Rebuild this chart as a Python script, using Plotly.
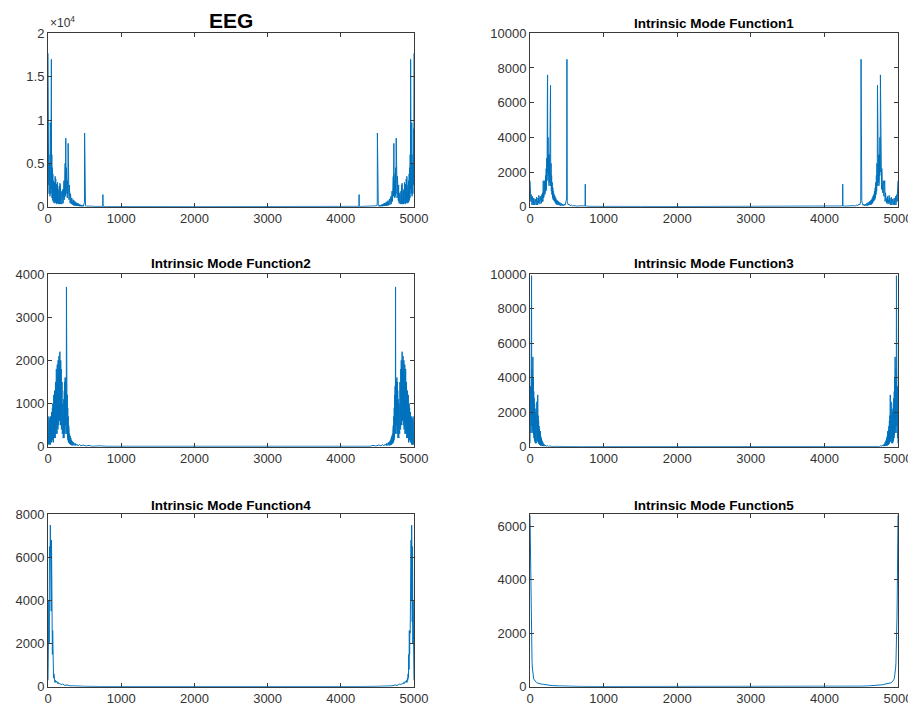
import plotly.graph_objects as go
from plotly.subplots import make_subplots

# ---------------- data (left half of each symmetric spectrum) ----------------
titles = ["EEG", "Intrinsic Mode Function1", "Intrinsic Mode Function2",
          "Intrinsic Mode Function3", "Intrinsic Mode Function4", "Intrinsic Mode Function5"]

x_ticks = [0, 1000, 2000, 3000, 4000, 5000]

eeg_x = [0, 3, 6, 9, 12, 15, 18, 21, 24, 27, 30, 33, 36, 39, 42, 46, 49, 52, 55, 58, 62, 66, 70, 74, 78,
         82, 86, 90, 94, 98, 102, 106, 110, 114, 118, 122, 126, 130, 134, 138, 142, 146, 150, 154, 158,
         162, 166, 170, 174, 178, 182, 186, 190, 194, 198, 202, 206, 210, 214, 218, 222, 226, 230, 234,
         238, 243, 247, 251, 255, 259, 263, 267, 271, 275, 279, 283, 287, 291, 295, 299, 303, 307, 311,
         315, 320, 325, 330, 335, 340, 345, 350, 356, 362, 368, 374, 380, 386, 392, 398, 404, 410, 416,
         422, 428, 434, 440, 446, 452, 458, 464, 470, 476, 482, 488, 494, 498, 500, 502, 506, 512, 520,
         540, 560, 580, 600, 640, 680, 720, 748, 750, 752, 800, 900, 1000, 1500, 2000, 2500]
eeg_y = [17700, 3000, 9000, 2500, 6000, 1500, 5000, 2000, 4200, 1200, 9700, 2500, 9000, 1500, 5000, 17000,
         2000, 6000, 1000, 4500, 800, 3800, 600, 3000, 500, 2500, 400, 2800, 600, 3500, 500, 3200, 400,
         2600, 300, 2200, 500, 2800, 400, 2000, 300, 1800, 500, 2400, 300, 2700, 400, 2500, 300, 1800,
         400, 1500, 300, 1600, 500, 2000, 400, 2500, 700, 3000, 800, 3500, 1000, 5000, 1200, 7900, 1500,
         4500, 1200, 3800, 1000, 3000, 1500, 7300, 1200, 3500, 800, 2500, 600, 1800, 400, 1500, 300, 1200,
         300, 1000, 200, 900, 200, 800, 150, 700, 150, 600, 100, 500, 100, 450, 80, 400, 80, 350, 60, 300,
         50, 250, 50, 200, 40, 200, 40, 150, 40, 150, 300, 500, 8500, 400, 200, 100, 60, 40, 80, 30, 60,
         30, 50, 30, 40, 1400, 40, 20, 30, 15, 20, 10, 10]

imf1_x = [0, 4, 8, 12, 16, 20, 24, 28, 32, 36, 40, 45, 50, 55, 60, 65, 70, 75, 80, 85, 90, 95, 100, 105,
          110, 115, 120, 125, 130, 135, 140, 145, 150, 155, 160, 165, 170, 175, 180, 184, 188, 192, 196,
          200, 204, 208, 212, 216, 220, 224, 228, 232, 236, 239, 242, 245, 248, 251, 254, 257, 260, 263,
          266, 270, 274, 279, 282, 286, 290, 294, 298, 302, 306, 310, 315, 320, 325, 330, 335, 340, 345,
          350, 356, 362, 368, 375, 382, 390, 398, 406, 415, 425, 435, 445, 455, 465, 475, 485, 492, 498,
          502, 506, 512, 520, 530, 545, 560, 580, 600, 640, 680, 720, 748, 751, 754, 800, 900, 1000, 1500,
          2000, 2500]
imf1_y = [1500, 600, 1200, 300, 700, 200, 500, 100, 600, 200, 400, 100, 500, 150, 350, 100, 450, 150, 300,
          100, 550, 200, 400, 100, 500, 200, 650, 250, 400, 150, 600, 250, 500, 200, 700, 300, 800, 300,
          1500, 500, 1200, 600, 1500, 700, 1300, 800, 1800, 900, 2200, 1000, 2800, 1500, 6500, 7600, 2000,
          4000, 1800, 3000, 1500, 2800, 1200, 3000, 1400, 3500, 1500, 7000, 1200, 2500, 900, 1800, 700,
          1400, 500, 1100, 400, 900, 350, 700, 300, 600, 200, 500, 150, 400, 100, 350, 100, 300, 80, 250,
          60, 200, 50, 150, 50, 150, 80, 200, 350, 500, 8500, 300, 200, 100, 150, 60, 100, 40, 60, 30, 50,
          30, 40, 1300, 40, 20, 25, 15, 15, 10, 10]

imf2_x = [0, 3, 6, 9, 12, 15, 18, 21, 24, 27, 30, 33, 36, 39, 42, 45, 48, 51, 54, 57, 60, 63, 66, 69, 72,
          75, 78, 81, 84, 87, 90, 93, 96, 99, 102, 105, 108, 111, 114, 117, 120, 123, 126, 129, 132, 135,
          138, 141, 144, 147, 150, 153, 156, 159, 162, 165, 168, 171, 174, 177, 180, 183, 186, 189, 192,
          195, 198, 201, 204, 207, 210, 213, 216, 219, 222, 225, 228, 231, 234, 237, 240, 243, 246, 249,
          252, 255, 258, 261, 264, 267, 270, 273, 276, 279, 282, 285, 288, 291, 295, 299, 303, 307, 312,
          317, 322, 328, 335, 342, 350, 360, 370, 380, 395, 410, 430, 450, 480, 520, 560, 600, 700, 800,
          1000, 1500, 2500]
imf2_y = [600, 100, 500, 50, 700, 100, 400, 50, 650, 150, 500, 50, 700, 100, 600, 150, 800, 100, 700, 200,
          900, 150, 1000, 200, 800, 100, 1200, 300, 1000, 200, 1300, 300, 1100, 200, 1500, 400, 1200, 300,
          1800, 500, 1400, 300, 1900, 600, 1600, 400, 2000, 700, 1700, 500, 2100, 800, 1800, 600, 2200,
          900, 1900, 500, 2000, 700, 1800, 400, 1700, 600, 1500, 300, 1200, 400, 1000, 200, 900, 300, 1100,
          200, 1300, 400, 1500, 300, 1600, 500, 1500, 400, 1600, 300, 3700, 500, 1400, 300, 1200, 200, 900,
          150, 700, 100, 500, 100, 400, 80, 300, 60, 250, 50, 200, 40, 150, 30, 120, 30, 100, 30, 80, 25,
          60, 20, 50, 20, 40, 15, 30, 10, 20, 10, 10, 5, 5]

imf3_x = [0, 3, 6, 9, 12, 15, 18, 21, 24, 27, 30, 33, 36, 39, 42, 45, 48, 51, 54, 57, 60, 63, 66, 69, 72,
          75, 78, 81, 84, 87, 90, 93, 96, 99, 102, 105, 108, 111, 114, 117, 120, 123, 126, 129, 132, 135,
          138, 141, 144, 147, 150, 155, 160, 165, 170, 176, 182, 190, 198, 208, 220, 235, 250, 270, 300,
          350, 400, 500, 700, 1000, 2500]
imf3_y = [200, 2000, 500, 3500, 800, 5500, 1000, 9900, 1200, 4500, 800, 3800, 1500, 5200, 1000, 4000, 700,
          3200, 500, 2800, 400, 2500, 300, 2200, 200, 2000, 300, 1800, 200, 2200, 300, 2600, 400, 2000,
          300, 3000, 400, 1800, 200, 1500, 200, 1200, 150, 1000, 100, 800, 100, 900, 80, 600, 60, 500, 50,
          350, 40, 250, 30, 150, 30, 100, 20, 60, 15, 40, 10, 20, 5, 10, 5, 5, 3]

imf4_x = [0, 4, 8, 12, 16, 20, 24, 28, 32, 36, 40, 44, 48, 52, 56, 60, 64, 68, 72, 76, 80, 85, 90, 95,
          100, 110, 120, 130, 140, 150, 160, 180, 200, 230, 260, 300, 350, 400, 500, 700, 1000, 2500]
imf4_y = [300, 2500, 1800, 4000, 2000, 6500, 3000, 6000, 7500, 4000, 6800, 3500, 6800, 2500, 2600, 1500,
          2600, 800, 1500, 400, 600, 300, 400, 200, 300, 200, 250, 150, 200, 120, 150, 100, 120, 60, 80,
          40, 40, 25, 20, 10, 8, 5]

imf5_x = [0, 2, 5, 8, 11, 14, 17, 20, 24, 28, 32, 36, 40, 45, 50, 60, 70, 80, 90, 100, 120, 150, 180,
          200, 220, 260, 300, 400, 500, 700, 1000, 2500]
imf5_y = [6400, 5800, 5100, 4000, 3200, 2600, 2000, 1600, 1200, 900, 700, 550, 450, 400, 300, 250, 200,
          180, 150, 140, 120, 100, 90, 80, 70, 60, 40, 30, 20, 10, 8, 5]

y_ranges = [20000, 10000, 4000, 10000, 8000, 6440]
y_tickvals = [[0, 5000, 10000, 15000, 20000],
              [0, 2000, 4000, 6000, 8000, 10000],
              [0, 1000, 2000, 3000, 4000],
              [0, 2000, 4000, 6000, 8000, 10000],
              [0, 2000, 4000, 6000, 8000],
              [0, 2000, 4000, 6000]]
eeg_ticktext = ["0", "0.5", "1", "1.5", "2"]

series = [(eeg_x, eeg_y), (imf1_x, imf1_y), (imf2_x, imf2_y),
          (imf3_x, imf3_y), (imf4_x, imf4_y), (imf5_x, imf5_y)]

# ---------------- figure ----------------
# the page body has an 8px margin, so the figure starts at (8, 8) in the window
OFF = 8
W, H = 916 - OFF, 710 - OFF
LINE = "#0072BD"
AX = "#3a3a3a"
FONT = "Liberation Sans, Arial, sans-serif"


def fx(px):
    return (px - OFF) / W


def fy(py):
    return 1 - (py - OFF) / H


col_px = [(48, 414), (530, 898)]
row_px = [(33.3, 206.7), (274, 446.7), (514.3, 686.7)]
title_y_px = [23, 264, 505]

fig = make_subplots(rows=3, cols=2)

for i, (xs, ys) in enumerate(series):
    r, c = i // 2 + 1, i % 2 + 1
    # spectrum is mirror-symmetric: right half is the left half reflected
    full_x = list(xs) + [5000 - v for v in reversed(xs[:-1])]
    full_y = list(ys) + list(reversed(ys[:-1]))
    fig.add_trace(go.Scatter(x=full_x, y=full_y, mode="lines",
                             line=dict(color=LINE, width=1), showlegend=False,
                             hoverinfo="skip"), row=r, col=c)

    x0, x1 = col_px[c - 1]
    top, bot = row_px[r - 1]
    fig.update_xaxes(domain=[fx(x0), fx(x1)], range=[0, 5000], tickvals=x_ticks,
                     tickformat="d", automargin=False,
                     showline=True, linecolor=AX, linewidth=1, mirror="ticks",
                     ticks="inside", ticklen=4, tickcolor=AX, showgrid=False, zeroline=False,
                     tickfont=dict(family=FONT, size=13, color="#333333"),
                     row=r, col=c)
    yk = dict(domain=[fy(bot), fy(top)], range=[0, y_ranges[i]], tickvals=y_tickvals[i],
              tickformat="d", automargin=False,
              showline=True, linecolor=AX, linewidth=1, mirror="ticks",
              ticks="inside", ticklen=4, tickcolor=AX, showgrid=False, zeroline=False,
              tickfont=dict(family=FONT, size=13, color="#333333"))
    if i == 0:
        yk["ticktext"] = eeg_ticktext
    fig.update_yaxes(row=r, col=c, **yk)

    # titles
    if i == 0:
        fig.add_annotation(text="<b>%s</b>" % titles[i], x=fx((x0 + x1) / 2), y=fy(8.5),
                           xref="paper", yref="paper", xanchor="center", yanchor="top",
                           borderpad=0, showarrow=False,
                           font=dict(family=FONT, size=21, color="#000000"))
    else:
        fig.add_annotation(text="<b>%s</b>" % titles[i], x=fx((x0 + x1) / 2), y=fy(title_y_px[r - 1]),
                           xref="paper", yref="paper", xanchor="center", yanchor="middle",
                           showarrow=False, font=dict(family=FONT, size=13.5, color="#000000"))

# exponent label for EEG panel
fig.add_annotation(text="×10<sup>4</sup>", x=fx(48), y=fy(32), xref="paper", yref="paper",
                   xanchor="left", yanchor="bottom", showarrow=False,
                   font=dict(family=FONT, size=12, color="#333333"))

fig.update_layout(width=W, height=H, margin=dict(l=0, r=0, t=0, b=0, autoexpand=False),
                  paper_bgcolor="white", plot_bgcolor="white",
                  font=dict(family=FONT, color="#333333"))

fig.write_html("out.html")
